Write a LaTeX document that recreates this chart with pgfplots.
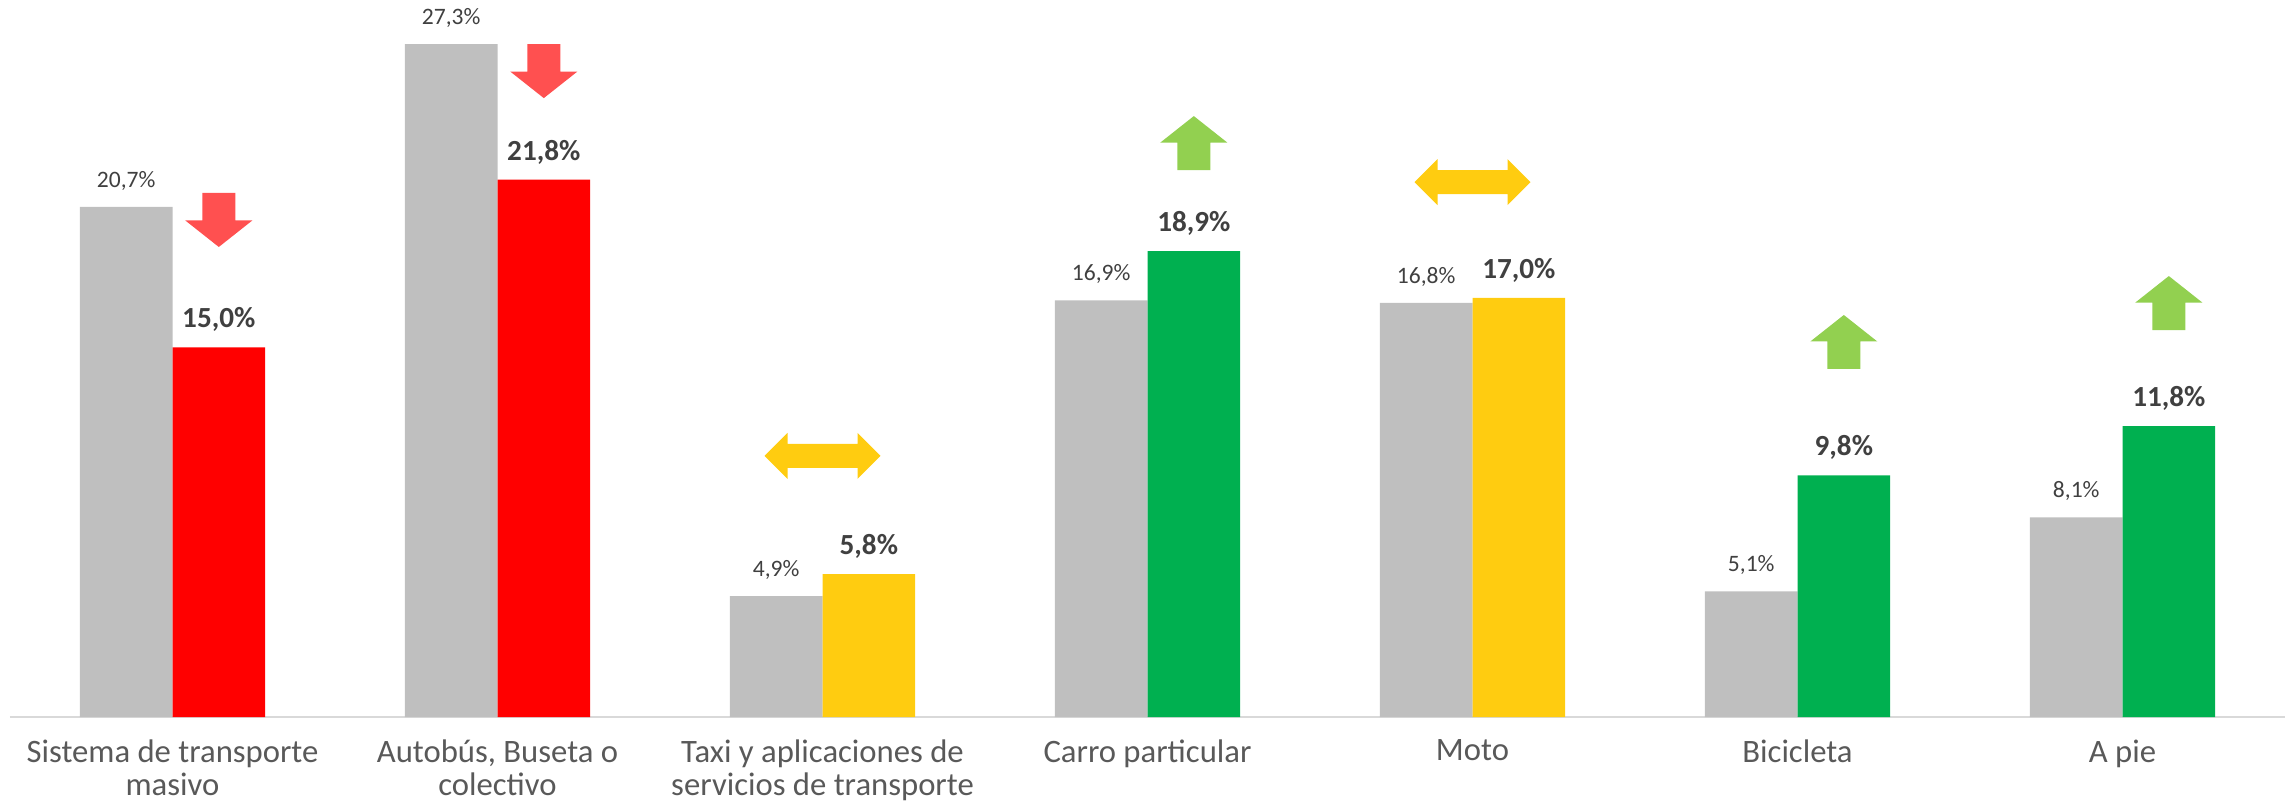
\documentclass[border=0pt]{standalone}
\usepackage{pgfplots}
\pgfplotsset{compat=1.18}
\usepackage{fontspec}
\setmainfont{Carlito}
\definecolor{cgrey}{HTML}{BFBFBF}
\definecolor{cred}{HTML}{FF0000}
\definecolor{cyel}{HTML}{FFCC10}
\definecolor{cgreen}{HTML}{00B050}
\definecolor{ared}{HTML}{FF5050}
\definecolor{agreen}{HTML}{92D050}
\definecolor{ctext}{HTML}{404040}
\definecolor{ctick}{HTML}{595959}
\definecolor{cline}{HTML}{D9D9D9}
\newcommand{\downarr}[3]{\fill[#3] (axis cs:#1,#2) ++(-1.65mm,0mm) -- ++(3.3mm,0mm) -- ++(0mm,-2.75mm) -- ++(1.7mm,0mm) -- ++(-3.35mm,-2.65mm) -- ++(-3.35mm,2.65mm) -- ++(1.7mm,0mm) -- cycle;}
\newcommand{\uparr}[3]{\fill[#3] (axis cs:#1,#2) -- ++(3.35mm,-2.65mm) -- ++(-1.7mm,0mm) -- ++(0mm,-2.75mm) -- ++(-3.3mm,0mm) -- ++(0mm,2.75mm) -- ++(-1.7mm,0mm) -- cycle;}
\newcommand{\dblarr}[3]{\fill[#3] (axis cs:#1,#2) ++(-5.8mm,0mm) -- ++(2.3mm,2.3mm) -- ++(0mm,-1.1mm) -- ++(7mm,0mm) -- ++(0mm,1.1mm) -- ++(2.3mm,-2.3mm) -- ++(-2.3mm,-2.3mm) -- ++(0mm,1.1mm) -- ++(-7mm,0mm) -- ++(0mm,-1.1mm) -- cycle;}
\pgfplotstableread{
x grey
0 20.7
1 27.3
2 4.9
3 16.9
4 16.8
5 5.1
6 8.1
}\greydata
\pgfplotstableread{
x val
0 15.0
1 21.8
}\reddata
\pgfplotstableread{
x val
2 5.8
4 17.0
}\yeldata
\pgfplotstableread{
x val
3 18.9
5 9.8
6 11.8
}\greendata
\begin{document}
\begin{tikzpicture}
\begin{axis}[
  width=227.5mm, height=71.7mm, scale only axis,
  xmin=-0.5, xmax=6.5, ymin=0, ymax=29.09,
  axis x line=bottom, axis y line=none,
  x axis line style={draw=cline, line width=0.7pt, -},
  xtick={0,...,6}, major tick length=0pt,
  xticklabels={{Sistema de transporte\\masivo},{Autobús, Buseta o\\colectivo},{Taxi y aplicaciones de\\servicios de transporte},{Carro particular},{Moto},{Bicicleta},{A pie}},
  xticklabel style={align=center, font=\fontsize{9.3}{9.4}\selectfont, text=ctick, inner sep=0pt, anchor=north, yshift=-2.2mm},
  ytick=\empty,
  ybar, bar width=0.285,
  clip=false,
  nodes near coords={\pgfmathprintnumber[fixed,fixed zerofill,precision=1,use comma,assume math mode=true]{\pgfplotspointmeta}\%},
  nodes near coords style={anchor=base, inner sep=0pt, yshift=1.95mm, text=ctext},
]
\addplot[fill=cgrey, draw=none, bar shift=-0.1425, nodes near coords style={font=\fontsize{6.7}{8}\selectfont}] table[x=x,y=grey] {\greydata};
\addplot[fill=cred, draw=none, bar shift=0.1425, nodes near coords style={font=\fontsize{8.3}{10}\selectfont\bfseries}] table[x=x,y=val] {\reddata};
\addplot[fill=cyel, draw=none, bar shift=0.1425, nodes near coords style={font=\fontsize{8.3}{10}\selectfont\bfseries}] table[x=x,y=val] {\yeldata};
\addplot[fill=cgreen, draw=none, bar shift=0.1425, nodes near coords style={font=\fontsize{8.3}{10}\selectfont\bfseries}] table[x=x,y=val] {\greendata};
\downarr{0.1425}{21.26}{ared}
\downarr{1.1425}{27.30}{ared}
\dblarr{2}{10.59}{cyel}
\uparr{3.1425}{24.38}{agreen}
\dblarr{4}{21.70}{cyel}
\uparr{5.1425}{16.31}{agreen}
\uparr{6.1425}{17.89}{agreen}
\coordinate (bl) at (rel axis cs:0,0);
\coordinate (tr) at (rel axis cs:1,1);
\end{axis}
\pgfresetboundingbox
\useasboundingbox ([shift={(-1mm,-8.6mm)}]bl) rectangle ([shift={(0.5mm,0mm)}]tr);
\end{tikzpicture}
\end{document}
